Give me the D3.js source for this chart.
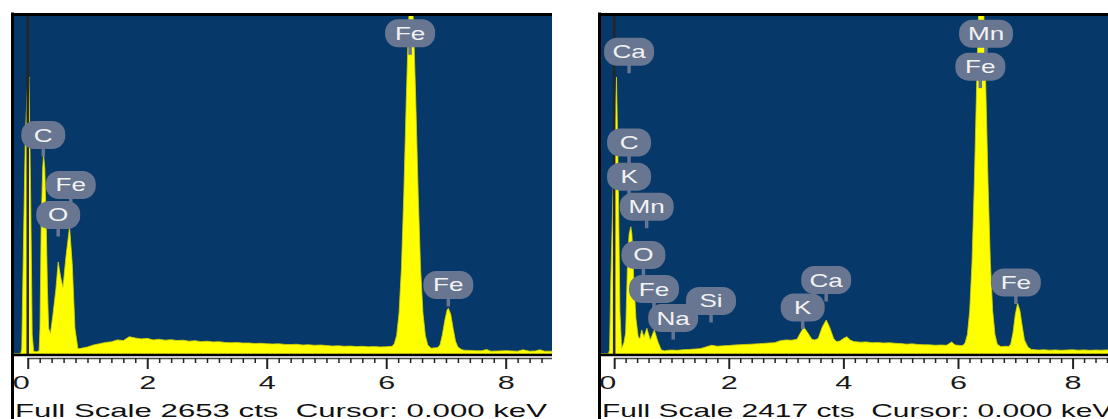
<!DOCTYPE html>
<html>
<head>
<meta charset="utf-8">
<script src="https://cdn.jsdelivr.net/npm/d3@7"></script>
<style>
  html, body { margin: 0; padding: 0; background: #ffffff; overflow: hidden; }
  svg { display: block; }
</style>
</head>
<body>
<svg id="chart" width="1108" height="419"></svg>
<script>
// Energy axis shared by both EDS spectra (keV)
const energyRange = [-0.23, 8.775];
const majorTicks = [0, 2, 4, 6, 8];

// Spectrum A: [keV, counts]
const spectrumA = [
  [-0.23, 0], [-0.12, 0], [-0.10, 40], [-0.07, 900], [-0.04, 1700], [-0.01, 2050],
  [0.02, 2161], [0.05, 1200], [0.075, 150], [0.10, 20], [0.15, 18], [0.19, 25],
  [0.205, 200], [0.225, 1000], [0.25, 1450], [0.265, 1553], [0.285, 1450],
  [0.31, 1000], [0.33, 500], [0.35, 200],
  [0.38, 160], [0.42, 300], [0.47, 500], [0.51, 718], [0.55, 600], [0.59, 520],
  [0.64, 760], [0.70, 991], [0.745, 700], [0.79, 200], [0.84, 40],
  [0.9, 45], [1.0, 55], [1.1, 70], [1.2, 80], [1.3, 90], [1.4, 95], [1.5, 110],
  [1.6, 105], [1.7, 135], [1.8, 125], [1.9, 118], [2.0, 122], [2.1, 110], [2.2, 115],
  [2.3, 108], [2.4, 112], [2.5, 105], [2.6, 108], [2.7, 100], [2.8, 104], [2.9, 96],
  [3.0, 100], [3.1, 94], [3.2, 96], [3.3, 90], [3.4, 88], [3.5, 90], [3.6, 85],
  [3.7, 86], [3.8, 82], [3.9, 84], [4.0, 80], [4.1, 78], [4.2, 80], [4.3, 75],
  [4.4, 74], [4.5, 76], [4.6, 70], [4.7, 72], [4.8, 68], [4.9, 70], [5.0, 66],
  [5.1, 62], [5.2, 64], [5.3, 60], [5.4, 62], [5.5, 58], [5.6, 60], [5.7, 56],
  [5.8, 58], [5.9, 55], [6.0, 57], [6.1, 60],
  [6.135, 80], [6.175, 145], [6.215, 320], [6.255, 670], [6.295, 1250], [6.335, 1970],
  [6.375, 2600], [6.415, 2850], [6.455, 2600], [6.495, 1970], [6.535, 1250],
  [6.575, 670], [6.615, 320], [6.655, 145], [6.695, 70], [6.75, 45], [6.82, 48],
  [6.86, 50], [6.90, 70], [6.94, 150], [6.98, 260], [7.02, 345], [7.04, 357],
  [7.08, 310], [7.12, 200], [7.16, 100], [7.20, 55], [7.26, 35],
  [7.3, 30], [7.4, 28], [7.5, 26], [7.6, 25], [7.68, 35], [7.75, 22], [7.9, 24],
  [8.0, 26], [8.1, 24], [8.2, 22], [8.29, 33], [8.4, 22], [8.5, 24], [8.57, 33],
  [8.65, 22], [8.775, 22]
];

// Spectrum B: [keV, counts]
const spectrumB = [
  [-0.23, 0], [-0.10, 0], [-0.08, 30], [-0.06, 500], [-0.03, 1000], [0.0, 1500],
  [0.04, 1969], [0.07, 1300], [0.10, 300], [0.13, 40], [0.15, 60], [0.17, 80],
  [0.20, 150], [0.23, 600], [0.26, 850], [0.29, 905], [0.31, 850], [0.34, 550],
  [0.38, 250], [0.42, 120],
  [0.45, 110], [0.48, 171], [0.52, 120], [0.57, 183], [0.63, 100], [0.70, 171],
  [0.76, 90], [0.82, 30], [0.88, 22],
  [0.9, 25], [1.0, 28], [1.1, 26], [1.2, 30], [1.3, 32], [1.4, 35], [1.5, 38],
  [1.6, 50], [1.7, 62], [1.8, 55], [1.9, 58], [2.0, 60], [2.1, 64], [2.2, 66],
  [2.3, 68], [2.4, 70], [2.5, 72], [2.6, 75], [2.7, 78], [2.8, 80], [2.9, 95],
  [3.0, 100], [3.1, 98], [3.19, 105], [3.25, 150], [3.31, 190], [3.38, 150],
  [3.45, 105], [3.5, 100], [3.56, 110], [3.63, 190], [3.70, 242], [3.76, 190],
  [3.83, 110], [3.88, 88], [3.94, 92], [4.0, 110], [4.06, 123], [4.12, 100],
  [4.18, 88], [4.3, 84], [4.4, 86], [4.5, 80], [4.6, 82], [4.7, 78], [4.8, 80],
  [4.9, 76], [5.0, 74], [5.1, 70], [5.2, 72], [5.3, 68], [5.4, 66], [5.5, 65],
  [5.6, 62], [5.7, 64], [5.8, 62], [5.89, 85], [5.95, 64], [6.05, 60], [6.09, 62],
  [6.125, 80], [6.165, 140], [6.205, 310], [6.245, 650], [6.285, 1210],
  [6.325, 1900], [6.365, 2510], [6.405, 2750], [6.445, 2510], [6.485, 1900],
  [6.525, 1210], [6.565, 650], [6.605, 310], [6.645, 140], [6.685, 70],
  [6.75, 52], [6.82, 55], [6.88, 54], [6.92, 70], [6.96, 150], [7.00, 280],
  [7.04, 360], [7.08, 310], [7.12, 200], [7.16, 100], [7.22, 50], [7.28, 32],
  [7.4, 28], [7.5, 30], [7.6, 27], [7.7, 29], [7.8, 26], [7.9, 28], [8.0, 30],
  [8.1, 27], [8.2, 29], [8.3, 26], [8.4, 28], [8.5, 27], [8.6, 29], [8.7, 28],
  [8.775, 27]
];

// Element markers: [element, keV, counts at marker tip]
const labelsA = [
  ["C", 0.26, 1541],
  ["Fe", 0.72, 1151],
  ["O", 0.51, 917],
  ["Fe", 6.40, 2335],
  ["Fe", 7.04, 371]
];
const labelsB = [
  ["Ca", 0.26, 1996],
  ["C", 0.26, 1351],
  ["K", 0.26, 1108],
  ["Mn", 0.567, 894],
  ["O", 0.51, 551],
  ["Fe", 0.695, 309],
  ["Na", 1.03, 103],
  ["Si", 1.69, 224],
  ["K", 3.29, 178],
  ["Ca", 3.70, 373],
  ["Mn", 6.49, 2124],
  ["Fe", 6.39, 1890],
  ["Fe", 7.01, 355]
];

const fullScaleA = 2653;
const fullScaleB = 2417;
const cursorKeV = 0.000;

const svg = d3.select("#chart");

const NAVY = "#06386a";
const YELLOW = "#ffff00";
const BADGE = "#687691";
const FONT = "'Liberation Sans', Arial, sans-serif";

const panels = [
  { id: "a", spectrum: spectrumA, labels: labelsA, fullScale: fullScaleA, x0: 14, width: 538 },
  { id: "b", spectrum: spectrumB, labels: labelsB, fullScale: fullScaleB, x0: 601, width: 516 }
];

const plotTop = 14, plotBottom = 354;

panels.forEach(p => {
  const x = d3.scaleLinear().domain(energyRange).range([p.x0, p.x0 + p.width]);
  const y = d3.scaleLinear().domain([0, p.fullScale]).range([plotBottom, plotTop]);
  const g = svg.append("g");
  const x1 = p.x0 + p.width;

  g.append("clipPath").attr("id", "clip-" + p.id)
    .append("rect").attr("x", p.x0).attr("y", plotTop)
    .attr("width", p.width).attr("height", plotBottom - plotTop);

  // plot background
  g.append("rect").attr("x", p.x0).attr("y", plotTop)
    .attr("width", p.width).attr("height", plotBottom - plotTop)
    .attr("fill", NAVY);

  // spectrum
  const area = d3.area()
    .x(d => x(d[0]))
    .y0(plotBottom)
    .y1(d => y(d[1]));
  g.append("path")
    .datum(p.spectrum)
    .attr("clip-path", `url(#clip-${p.id})`)
    .attr("d", area)
    .attr("fill", YELLOW)
    .attr("stroke", "#d6d600")
    .attr("stroke-width", 0.8);

  // cursor line
  g.append("line")
    .attr("x1", x(cursorKeV)).attr("x2", x(cursorKeV))
    .attr("y1", plotTop).attr("y2", plotBottom)
    .attr("stroke", "#262626").attr("stroke-width", 2.5);

  // element markers
  p.labels.forEach(([el, kev, cts]) => {
    const tx = x(kev), ty = y(cts);
    const cy = ty - 21.5;
    const w = el.length === 1 ? 44 : (el === "Mn" ? 54 : 50);
    const m = g.append("g");
    m.append("line")
      .attr("x1", tx).attr("x2", tx).attr("y1", cy + 10).attr("y2", ty)
      .attr("stroke", BADGE).attr("stroke-width", 3.5);
    m.append("rect")
      .attr("x", tx - w / 2).attr("y", cy - 14)
      .attr("width", w).attr("height", 28)
      .attr("rx", 13).attr("ry", 13)
      .attr("fill", BADGE);
    m.append("text")
      .attr("transform", `translate(${tx},${cy + 6.5}) scale(1.45,1)`)
      .attr("text-anchor", "middle")
      .attr("font-family", FONT)
      .attr("font-size", 18)
      .attr("fill", "#f2f2f2")
      .text(el);
  });

  // frame: left and top borders
  g.append("line").attr("x1", p.x0 - 1.5).attr("x2", p.x0 - 1.5)
    .attr("y1", plotTop - 1.5).attr("y2", 419)
    .attr("stroke", "#000").attr("stroke-width", 3);
  g.append("line").attr("x1", p.x0 - 3).attr("x2", x1)
    .attr("y1", plotTop + 0.5).attr("y2", plotTop + 0.5)
    .attr("stroke", "#000").attr("stroke-width", 3);
  // bottom edge of plot
  g.append("line").attr("x1", p.x0 - 3).attr("x2", x1)
    .attr("y1", plotBottom + 1).attr("y2", plotBottom + 1)
    .attr("stroke", "#000").attr("stroke-width", 2.5);

  // energy axis line
  g.append("line").attr("x1", x(0)).attr("x2", x1)
    .attr("y1", 358.5).attr("y2", 358.5)
    .attr("stroke", "#444").attr("stroke-width", 1.3);

  // minor ticks every 0.2 keV
  const minor = d3.range(0, 8.8, 0.2).map(v => +v.toFixed(1)).filter(v => !majorTicks.includes(v) && v <= energyRange[1]);
  const minorAxis = d3.axisBottom(x).tickValues(minor).tickSize(5).tickFormat("");
  const ma = g.append("g").attr("transform", "translate(0,358)").call(minorAxis);
  ma.select(".domain").remove();
  ma.selectAll(".tick line").attr("stroke", "#222").attr("stroke-width", 1.5);

  // major ticks with labels
  const majorAxis = d3.axisBottom(x).tickValues(majorTicks).tickSize(11).tickFormat(d3.format("d"));
  const mj = g.append("g").attr("transform", "translate(0,358)").call(majorAxis);
  mj.select(".domain").remove();
  mj.selectAll(".tick line").attr("stroke", "#222").attr("stroke-width", 2);
  mj.selectAll(".tick text")
    .attr("y", 0).attr("dy", 0)
    .attr("transform", d => `translate(${d === 0 ? -7 : 0},30.5) scale(1.7,1)`)
    .attr("font-family", FONT)
    .attr("font-size", 18)
    .attr("fill", "#1a1a1a");

  // status line
  g.append("text")
    .attr("x", p.x0 + 1).attr("y", 416.5)
    .attr("font-family", FONT)
    .attr("font-size", 18.5)
    .attr("fill", "#111")
    .attr("textLength", 532 * p.width / 538)
    .attr("lengthAdjust", "spacingAndGlyphs")
    .style("white-space", "pre")
    .text(`Full Scale ${p.fullScale} cts  Cursor: ${cursorKeV.toFixed(3)} keV`);
});
</script>
</body>
</html>
